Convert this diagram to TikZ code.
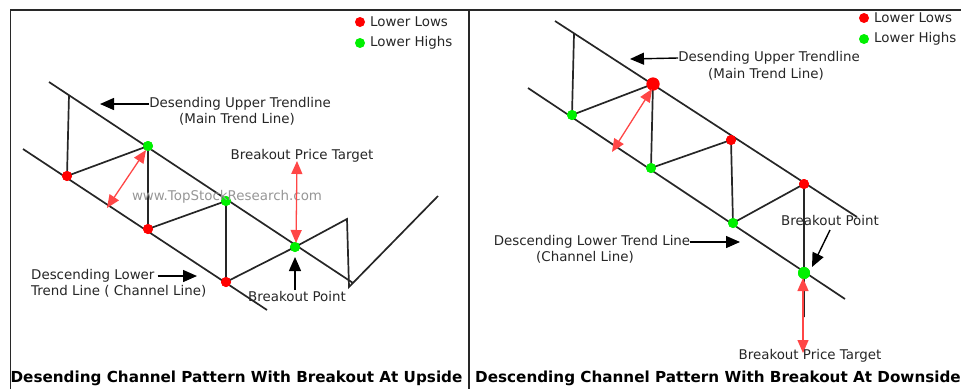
\documentclass[tikz,border=0pt]{standalone}
\usepackage{fontspec}
\setmainfont{DejaVu Sans}
\usetikzlibrary{arrows.meta}
\definecolor{lowred}{RGB}{255,0,0}
\definecolor{highgreen}{RGB}{0,240,0}
\definecolor{arrowred}{RGB}{255,70,70}
\definecolor{frame}{RGB}{40,40,40}
\definecolor{mark}{RGB}{150,150,150}
\tikzset{
  trend/.style={line width=1.7pt, black!85},
  price/.style={line width=1.7pt, black!85},
  low/.style={circle, fill=lowred, inner sep=0pt, minimum size=10pt},
  high/.style={circle, fill=highgreen, inner sep=0pt, minimum size=10pt},
  label/.style={inner sep=0pt, font=\fontsize{13.4}{15}\selectfont, text=black!85},
  caption/.style={inner sep=0pt, font=\bfseries\fontsize{15.2}{17}\selectfont},
  callout/.style={line width=1.4pt, black, -{Triangle[length=14pt,width=12pt]}},
  span/.style={line width=1.3pt, arrowred, {Triangle[length=13pt,width=11pt]}-{Triangle[length=13pt,width=11pt]}},
}
\begin{document}
\begin{tikzpicture}[x=1pt,y=-1pt]
\useasboundingbox (0,0) rectangle (961,389);
% frames
\draw[frame, line width=1.6pt] (10.5,389) -- (10.5,10) -- (961,10);
\draw[frame, line width=1.6pt] (469,10) -- (469,389);

% ---------- left panel: breakout at upside ----------
\coordinate (ua) at (49,82);   \coordinate (ub) at (353,283);
\coordinate (la) at (23,149);  \coordinate (lb) at (267,310);
\draw[trend] (ua) -- (ub);
\draw[trend] (la) -- (lb);
\coordinate (top0) at (69,95);
\coordinate (p1) at (347,219);
\coordinate (p2) at (349,287);
\coordinate (p3) at (438,196);
\node[low]  (Lr1) at (67,176) {};
\node[high] (Lg1) at (148,146) {};
\node[low]  (Lr2) at (148,229) {};
\node[high] (Lg2) at (226,201) {};
\node[low]  (Lr3) at (226,282) {};
\node[high] (Lg3) at (295,247) {};
\draw[price] (top0) -- (Lr1.center) -- (Lg1.center) -- (Lr2.center) -- (Lg2.center)
  -- (Lr3.center) -- (Lg3.center) -- (p1) -- (p2) -- (p3);
\node[low]  at (Lr1) {};
\node[high] at (Lg1) {};
\node[low]  at (Lr2) {};
\node[high] at (Lg2) {};
\node[low]  at (Lr3) {};
\node[high] at (Lg3) {};

\node[label, text=mark] (Lweb) at (227,197) {www.TopStockResearch.com};

\coordinate (Lw1) at (146,150);
\coordinate (Lw2) at (107,208);
\draw[span] (Lw1) -- (Lw2);
\coordinate (Lt1) at (297,161);
\coordinate (Lt2) at (296,243);
\draw[span] (Lt1) -- (Lt2);

\node[label] (Lup1) at (240,104) {Desending Upper Trendline};
\node[label] (Lup2) at (237,119) {(Main Trend Line)};
\coordinate (Luptip) at (100,104);
\draw[callout] (Lup1.west) -- (Luptip);

\node[label] (Ltgt) at (302,156) {Breakout Price Target};

\node[label] (Lbp) at (297,296) {Breakout Point};
\coordinate (Lbptip) at (295,257);
\draw[callout] (295,290) -- (Lbptip);

\node[label, anchor=west] (Llo1) at (31,276) {Descending Lower};
\node[label, anchor=west] (Llo2) at (31,291) {Trend Line ( Channel Line)};
\coordinate (Llotip) at (197,276);
\draw[callout] ([xshift=3pt]Llo1.east) -- (Llotip);

\node[low]  (Lkr) at (360,22) {};
\node[label, anchor=west] (Lkrt) at (370,22) {Lower Lows};
\node[high] (Lkg) at (360,43) {};
\node[label, anchor=west] (Lkgt) at (370,43) {Lower Highs};

\node[caption] (Lcap) at (236.5,378) {Desending Channel Pattern With Breakout At Upside};

% ---------- right panel: breakout at downside ----------
\coordinate (Rua) at (555,21);  \coordinate (Rub) at (857,217);
\coordinate (Rla) at (528,88);  \coordinate (Rlb) at (845,299);
\draw[trend] (Rua) -- (Rub);
\draw[trend] (Rla) -- (Rlb);
\coordinate (Rtop0) at (574,34);
\coordinate (Rend) at (804,317);
\node[high] (Rg1) at (572,115) {};
\node[low, minimum size=13pt]  (Rr1) at (653,84) {};
\node[high] (Rg2) at (651,168) {};
\node[low]  (Rr2) at (731,140) {};
\node[high] (Rg3) at (733,223) {};
\node[low]  (Rr3) at (804,184) {};
\node[high, minimum size=12pt] (Rg4) at (804,273) {};
\draw[price] (Rtop0) -- (Rg1.center) -- (Rr1.center) -- (Rg2.center) -- (Rr2.center)
  -- (Rg3.center) -- (Rr3.center) -- (Rg4.center) -- (Rend);
\node[high] at (Rg1) {};
\node[low, minimum size=13pt] at (Rr1) {};
\node[high] at (Rg2) {};
\node[low]  at (Rr2) {};
\node[high] at (Rg3) {};
\node[low]  at (Rr3) {};
\node[high, minimum size=12pt] at (Rg4) {};

\coordinate (Rw1) at (652,89);
\coordinate (Rw2) at (612,152);
\draw[span] (Rw1) -- (Rw2);
\coordinate (Rt1) at (803,278);
\coordinate (Rt2) at (803,353);
\draw[span] (Rt1) -- (Rt2);

\node[label] (Rup1) at (769,58) {Desending Upper Trendline};
\node[label] (Rup2) at (766,74) {(Main Trend Line)};
\coordinate (Ruptip) at (630,59);
\draw[callout] (Rup1.west) -- (Ruptip);

\node[label] (Rbp) at (830,220) {Breakout Point};
\coordinate (Rbptip) at (812,267);
\draw[callout] (830,230) -- (Rbptip);

\node[label] (Rtgt) at (810,356) {Breakout Price Target};

\node[label] (Rlo1) at (592,242) {Descending Lower Trend Line};
\node[label] (Rlo2) at (585,257) {(Channel Line)};
\coordinate (Rlotip) at (740,242);
\draw[callout] (Rlo1.east) -- (Rlotip);

\node[low]  (Rkr) at (864,18) {};
\node[label, anchor=west] (Rkrt) at (874,18) {Lower Lows};
\node[high] (Rkg) at (864,39) {};
\node[label, anchor=west] (Rkgt) at (874,39) {Lower Highs};

\node[caption] (Rcap) at (718,378) {Descending Channel Pattern With Breakout At Downside};
\end{tikzpicture}
\end{document}
